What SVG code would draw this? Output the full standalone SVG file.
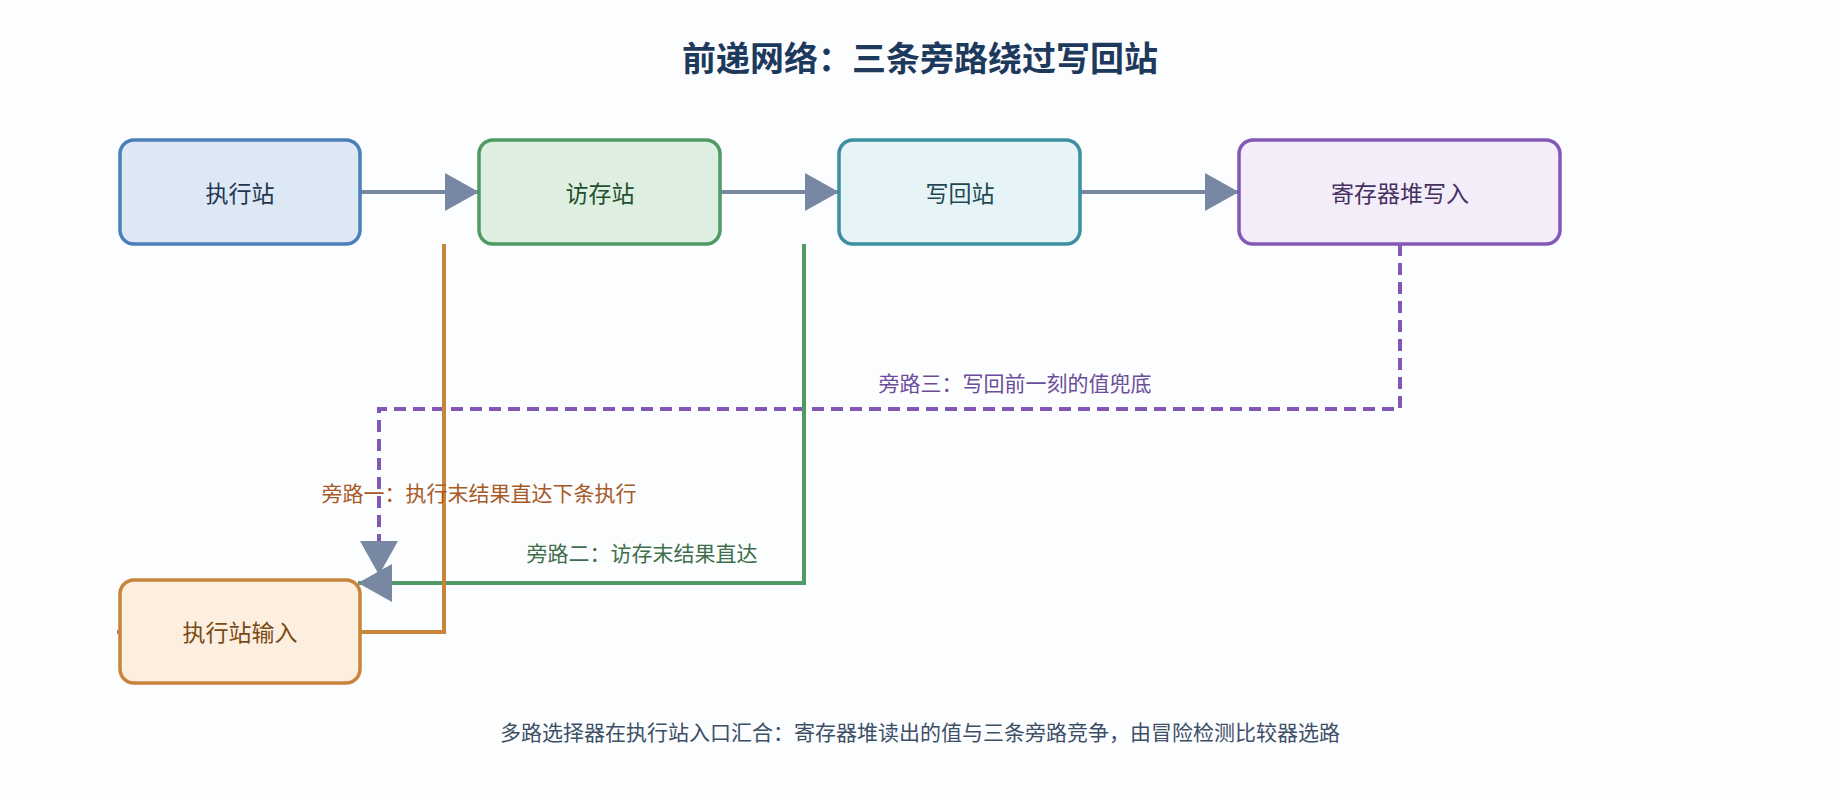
<svg xmlns="http://www.w3.org/2000/svg" width="1840" height="800" viewBox="0 0 1840 800">
<style>
text{font-family:"Noto Sans CJK SC","Noto Sans",sans-serif;text-anchor:middle;dominant-baseline:central}
.n{font-size:23px}
.l{font-size:21px}
.e{fill:none;stroke-width:4}
</style>
<defs>
<marker id="a" markerUnits="userSpaceOnUse" markerWidth="34" markerHeight="38" refX="34" refY="19" orient="auto"><path d="M0,0 L34,19 L0,38 z" fill="#7888a2"/></marker>
</defs>
<rect width="1840" height="800" fill="#fcfdff"/>
<text x="920" y="56" style="font-size:34px;font-weight:bold" fill="#1d3a5c">前递网络：三条旁路绕过写回站</text>
<g id="connectors">
<path class="e" stroke="#7888a2" d="M360,192 H479" marker-end="url(#a)"/>
<path class="e" stroke="#7888a2" d="M720,192 H839" marker-end="url(#a)"/>
<path class="e" stroke="#7888a2" d="M1080,192 H1239" marker-end="url(#a)"/>
<path class="e" stroke="#8257b5" stroke-dasharray="12,7" d="M1400,244 V409 H379 V575" marker-end="url(#a)"/>
<path class="e" stroke="#4f9a63" d="M804,244 V583 H358" marker-end="url(#a)"/>
<path class="e" stroke="#c9843b" d="M444,244 V632 H117" marker-end="url(#a)"/>
<text class="l" x="1015" y="382" fill="#6b4d99">旁路三：写回前一刻的值兜底</text>
<text class="l" x="479" y="492" fill="#a85a26">旁路一：执行末结果直达下条执行</text>
<text class="l" x="642" y="552" fill="#3e6e4a">旁路二：访存末结果直达</text>
</g>
<g id="n1"><rect x="120" y="140" width="240" height="104" rx="14" fill="#dde8f5" stroke="#4a7fb8" stroke-width="3.5"/><text class="n" x="240" y="192" fill="#1f3552">执行站</text></g>
<g id="n2"><rect x="479" y="140" width="241" height="104" rx="14" fill="#deefe1" stroke="#4f9a63" stroke-width="3.5"/><text class="n" x="600" y="192" fill="#22502e">访存站</text></g>
<g id="n3"><rect x="839" y="140" width="241" height="104" rx="14" fill="#e6f4f7" stroke="#3b8fa0" stroke-width="3.5"/><text class="n" x="960" y="192" fill="#1f4a55">写回站</text></g>
<g id="n4"><rect x="1239" y="140" width="321" height="104" rx="14" fill="#f3ecf9" stroke="#8257b5" stroke-width="3.5"/><text class="n" x="1400" y="192" fill="#45305f">寄存器堆写入</text></g>
<g id="n5"><rect x="120" y="580" width="240" height="103" rx="14" fill="#fdefdf" stroke="#c9843b" stroke-width="3.5"/><text class="n" x="240" y="631" fill="#7a4a14">执行站输入</text></g>
<text class="l" x="920" y="731" fill="#3d4f66">多路选择器在执行站入口汇合：寄存器堆读出的值与三条旁路竞争，由冒险检测比较器选路</text>
</svg>
